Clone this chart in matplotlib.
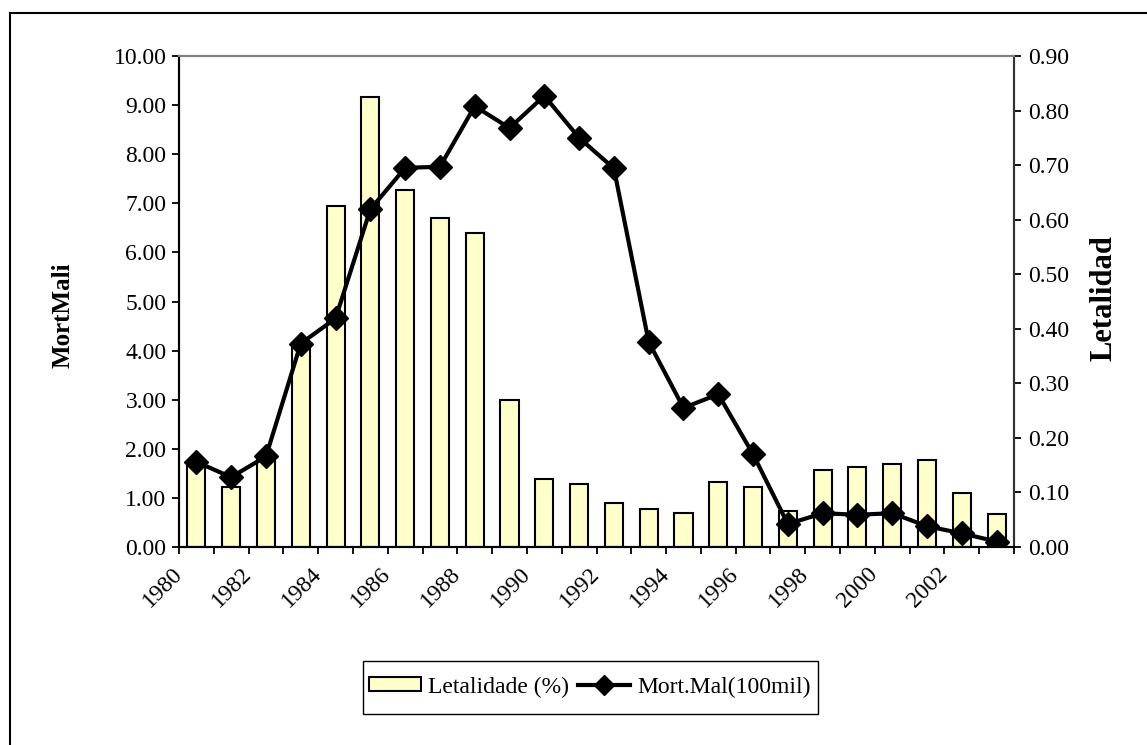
import numpy as np
import matplotlib
matplotlib.use('Agg')
import matplotlib.pyplot as plt
from matplotlib.lines import Line2D
from matplotlib.patches import Rectangle

plt.rcParams['font.family'] = 'Liberation Serif'

anos = list(range(1980, 2004))
letalidade = [1.72, 1.22, 1.78, 4.13, 6.95, 9.16, 7.27, 6.71, 6.40, 2.99, 1.38, 1.29,
              0.90, 0.77, 0.70, 1.33, 1.22, 0.73, 1.57, 1.62, 1.69, 1.77, 1.09, 0.67]
mortmal = [0.156, 0.128, 0.166, 0.373, 0.419, 0.619, 0.695, 0.697, 0.808, 0.768, 0.827, 0.750,
           0.694, 0.376, 0.255, 0.280, 0.170, 0.042, 0.062, 0.059, 0.062, 0.038, 0.025, 0.010]
# so um rotulo a cada dois anos
rotulos = [str(a) if i % 2 == 0 else '' for i, a in enumerate(anos)] + ['']

fig = plt.figure(figsize=(11.47, 7.45), dpi=100)
ax = fig.add_axes([179/1147, 1-547/745, (1014-179)/1147, (547-56)/745])
ax2 = ax.twinx()

x = np.arange(len(anos)) + 0.5
ax.bar(x, letalidade, width=0.52, color='#FFFFCC', edgecolor='black', linewidth=1.5, zorder=2)
ax2.plot(x, mortmal, color='black', lw=3, marker='D', markersize=12.5, zorder=3)

ax.set_xlim(0, len(anos))
ax.set_ylim(0, 10)
ax2.set_ylim(0, 0.9)

ax.set_yticks(np.arange(0, 10.01, 1))
ax.set_yticklabels(['%.2f' % v for v in np.arange(0, 10.01, 1)], fontsize=17)
ax2.set_yticks(np.arange(0, 0.901, 0.1))
ax2.set_yticklabels(['%.2f' % v for v in np.arange(0, 0.901, 0.1)], fontsize=17)

ax.set_xticks(np.arange(0, len(anos) + 1))
ax.set_xticklabels(rotulos)
ax.tick_params(axis='x', direction='out', length=5, width=1.3, pad=12)
for t in ax.get_xticklabels():
    t.set_rotation(45)
    t.set_ha('right')
    t.set_va('center')
    t.set_rotation_mode('anchor')
    t.set_fontsize(17)

ax.tick_params(axis='y', direction='out', length=5, width=1.3, pad=4)
ax2.tick_params(axis='y', direction='out', length=5, width=1.3, pad=5)

for a in (ax, ax2):
    a.spines['top'].set_color('#808080')
    a.spines['top'].set_linewidth(1.5)
    a.spines['left'].set_linewidth(1.5)
    a.spines['right'].set_linewidth(1.5)
    a.spines['right'].set_color('#333333')
    a.spines['bottom'].set_linewidth(1.5)

fig.text(63/1147, 1-315/745, 'MortMali', rotation=90, fontsize=18, fontweight='bold',
         ha='center', va='center')
fig.text(1104/1147, 1-298/745, 'Letalidad', rotation=90, fontsize=22, fontweight='bold',
         ha='center', va='center')

handles = [plt.Rectangle((0, 0), 1, 1, facecolor='#FFFFCC', edgecolor='black', linewidth=1.5),
           Line2D([], [], color='black', lw=3, marker='D', markersize=10)]
leg = fig.legend(handles, ['Letalidade (%)', 'Mort.Mal(100mil)'], loc='center',
                 bbox_to_anchor=(590/1147, 1-687/745), ncol=2, fontsize=17, frameon=False,
                 handlelength=2.2, handleheight=0.5,
                 columnspacing=0.4, handletextpad=0.3, borderpad=0.3)
# moldura da legenda
fig.add_artist(Rectangle((363/1147, 1-714/745), (818-363)/1147, (714-661)/745,
                         transform=fig.transFigure, facecolor='none', edgecolor='black', lw=1.0))

# borda da area do grafico
fig.add_artist(Line2D([10/1147, 1], [1-13/745, 1-13/745], color='black', lw=1.5))
fig.add_artist(Line2D([10/1147, 10/1147], [0, 1-13/745], color='black', lw=1.5))

fig.savefig('out.png', dpi=100)
